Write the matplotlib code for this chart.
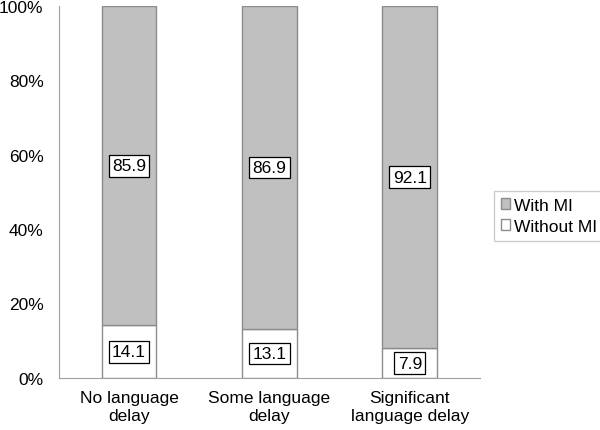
import matplotlib
matplotlib.use('Agg')
import matplotlib.pyplot as plt
import numpy as np

plt.rcParams['font.family'] = ['Liberation Sans', 'DejaVu Sans']

categories = ['No language\ndelay', 'Some language\ndelay', 'Significant\nlanguage delay']
without_mi = [14.1, 13.1, 7.9]
with_mi = [85.9, 86.9, 92.1]

fig = plt.figure(figsize=(6, 4.31), dpi=100)
ax = fig.add_axes([0.098, 0.121, 0.702, 0.863])

x = np.arange(len(categories))
w = 0.39
edge = '#8c8c8c'
b1 = ax.bar(x, without_mi, w, color='white', edgecolor=edge, linewidth=1, label='Without MI')
b2 = ax.bar(x, with_mi, w, bottom=without_mi, color='#c0c0c0', edgecolor=edge, linewidth=1, label='With MI')

fs = 12.5
box = dict(boxstyle='square,pad=0.2', facecolor='white', edgecolor='black', linewidth=0.9)
for i in range(len(categories)):
    ax.text(x[i], without_mi[i] / 2, f'{without_mi[i]}', ha='center', va='center', fontsize=fs, bbox=box)
    ax.text(x[i], without_mi[i] + with_mi[i] / 2, f'{with_mi[i]}', ha='center', va='center', fontsize=fs, bbox=box)

ax.set_xlim(-0.5, 2.5)
ax.set_ylim(0, 100)
ax.set_yticks(np.arange(0, 101, 20))
ax.set_yticklabels([f'{v}%' for v in range(0, 101, 20)], fontsize=fs)
ax.set_xticks(x)
ax.set_xticklabels(categories, fontsize=fs)
ax.tick_params(axis='x', length=0, pad=9)
ax.tick_params(axis='y', length=0, pad=11)
for s in ['top', 'right']:
    ax.spines[s].set_visible(False)
for s in ['left', 'bottom']:
    ax.spines[s].set_color('#a0a0a0')

handles = [b2, b1]
leg = fig.legend(handles, ['With MI', 'Without MI'], loc='center left', bbox_to_anchor=(0.814, 0.497),
                 fontsize=fs, frameon=True, fancybox=False, edgecolor='#c0c0c0',
                 handlelength=0.55, handleheight=0.55, handletextpad=0.25, borderpad=0.4,
                 borderaxespad=0.3, labelspacing=0.35)
leg.get_frame().set_linewidth(1)

fig.savefig('out.png', dpi=100)
